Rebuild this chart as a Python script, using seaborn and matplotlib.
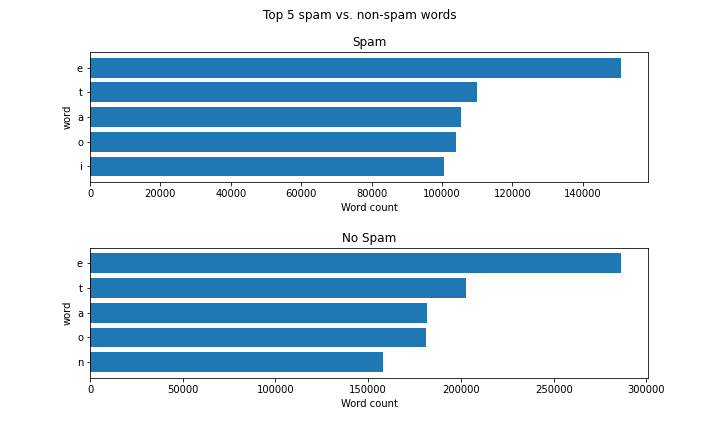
import pandas as pd
import matplotlib
matplotlib.use("Agg")
import matplotlib.pyplot as plt
import seaborn as sns

# top 5 words (letters) by count
spam_words = ["e", "t", "a", "o", "i"]
spam_counts = [151000, 110000, 105500, 104000, 100500]

ham_words = ["e", "t", "a", "o", "n"]
ham_counts = [286500, 202500, 181500, 181000, 157800]

spam = pd.DataFrame({"word": spam_words, "count": spam_counts})
ham = pd.DataFrame({"word": ham_words, "count": ham_counts})

fig, axes = plt.subplots(2, 1, figsize=(10, 6), dpi=72)
fig.subplots_adjust(hspace=0.5, bottom=0.125)
fig.suptitle("Top 5 spam vs. non-spam words")

for ax, df, title in zip(axes, [spam, ham], ["Spam", "No Spam"]):
    sns.barplot(data=df, x="count", y="word", orient="h", color="#1f77b4",
                saturation=1, width=0.8, linewidth=0, ax=ax)
    ax.set_ylim(len(df) - 0.36, -0.64)
    ax.set_title(title)
    ax.set_xlabel("Word count")
    ax.set_ylabel("word")

fig.savefig("out.png", dpi=72)
